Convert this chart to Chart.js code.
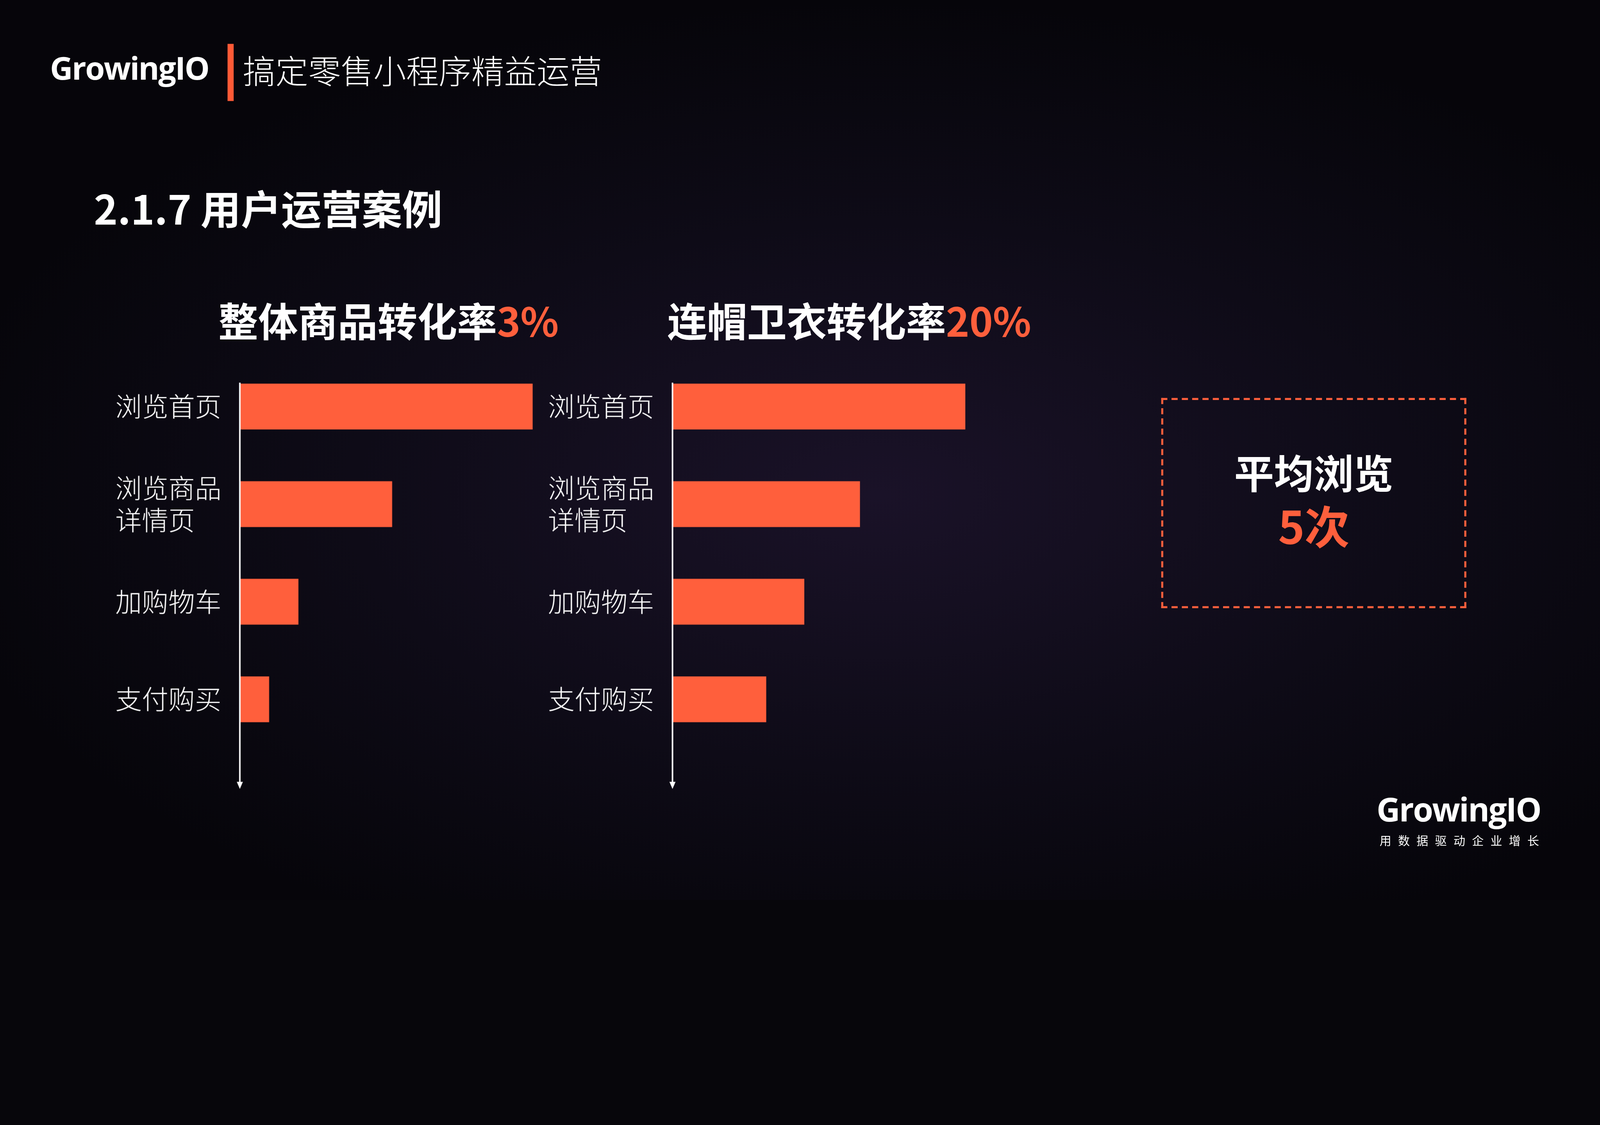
<!DOCTYPE html>
<html><head><meta charset="utf-8">
<script src="https://cdn.jsdelivr.net/npm/chart.js@4/dist/chart.umd.min.js"></script>
<style>
html,body{margin:0;padding:0;background:#07060b;overflow:hidden;}
#stage{position:absolute;left:0;top:0;width:1568px;height:882px;transform-origin:0 0;
background:radial-gradient(ellipse 60% 55% at 55% 55%, #1a1228 0%, #0e0b17 55%, #06050a 100%);
font-family:"Noto Sans CJK SC","Noto Sans",sans-serif;color:#fff;}
.abs{position:absolute;white-space:nowrap;}
canvas{position:absolute;}
</style></head><body>
<div id="stage">
  <div class="abs" style="left:49px;top:45px;font:700 31px 'Open Sans','Noto Sans',sans-serif;letter-spacing:-1px;">GrowingIO</div>
  <div class="abs" style="left:223px;top:43px;width:6px;height:56px;background:#ff5a36;"></div>
  <div class="abs" style="left:238px;top:45px;font:300 32px 'Noto Sans CJK SC';">搞定零售小程序精益运营</div>
  <div class="abs" style="left:92px;top:174px;font:700 39.5px 'Noto Sans CJK SC';">2.1.7 用户运营案例</div>
  <div class="abs" style="left:214px;top:285px;font:700 39px 'Noto Sans CJK SC';">整体商品转化率<span style="color:#ff5f3c">3%</span></div>
  <div class="abs" style="left:654px;top:285px;font:700 39px 'Noto Sans CJK SC';">连帽卫衣转化率<span style="color:#ff5f3c">20%</span></div>
  <div class="abs" style="left:1138px;top:390px;width:295px;height:202px;border:2px dashed #ff5f3c;"></div>
  <div class="abs" style="left:1138px;top:436px;width:299px;text-align:center;font:700 39px/52px 'Noto Sans CJK SC';">平均浏览<br><span style="color:#ff5f3c;font-size:44px">5次</span></div>
  <div class="abs" style="left:1349px;top:771px;font:700 32px 'Open Sans','Noto Sans',sans-serif;letter-spacing:-1px;">GrowingIO</div>
  <div class="abs" style="left:1352px;top:815px;font:400 11.5px 'Noto Sans CJK SC';letter-spacing:6.6px;">用数据驱动企业增长</div>
  <canvas id="c1" width="430" height="471" style="left:113px;top:319px;width:430px;height:471px"></canvas>
  <canvas id="c2" width="430" height="471" style="left:537px;top:319px;width:430px;height:471px"></canvas>
</div>
<script>
const stepLabels = [["浏览首页"],["浏览商品","详情页"],["加购物车"],["支付购买"]];
const overallValues = [100, 52, 20, 10];
const hoodieValues = [100, 64, 45, 32];

const S = window.innerWidth/1568;
document.getElementById('stage').style.transform='scale('+S+')';
const DPR = S*(window.devicePixelRatio||1);
const TOP = 319;

const axisArrow = {
  id:'axisArrow',
  afterDraw(chart){
    const ctx=chart.ctx, x=chart.chartArea.left;
    ctx.save();ctx.strokeStyle='#ffffff';ctx.fillStyle='#ffffff';ctx.lineWidth=1.5;
    ctx.beginPath();ctx.moveTo(x,375-TOP);ctx.lineTo(x,770-TOP);ctx.stroke();
    ctx.beginPath();ctx.moveTo(x-3,766-TOP);ctx.lineTo(x+3,766-TOP);ctx.lineTo(x,773-TOP);ctx.closePath();ctx.fill();
    ctx.restore();
  }
};
function make(id, values){
  new Chart(document.getElementById(id),{
    type:'bar',
    data:{labels:stepLabels,datasets:[{data:values,backgroundColor:'#ff5f3c',borderWidth:0,barPercentage:0.47,categoryPercentage:1}]},
    options:{
      indexAxis:'y',responsive:false,animation:false,devicePixelRatio:DPR,
      layout:{padding:{top:-10,bottom:57,right:21,left:0}},
      plugins:{legend:{display:false},tooltip:{enabled:false}},
      scales:{
        x:{display:false,min:0,max:100},
        y:{grid:{display:false},border:{display:false},
           ticks:{color:'#ffffff',font:{family:'Noto Sans CJK SC',size:26,weight:300},padding:16,crossAlign:'far',lineHeight:1.2},
           afterFit(s){s.width=122;}}
      }
    },
    plugins:[axisArrow]
  });
}
make('c1', overallValues);
make('c2', hoodieValues);
</script>
</body></html>
